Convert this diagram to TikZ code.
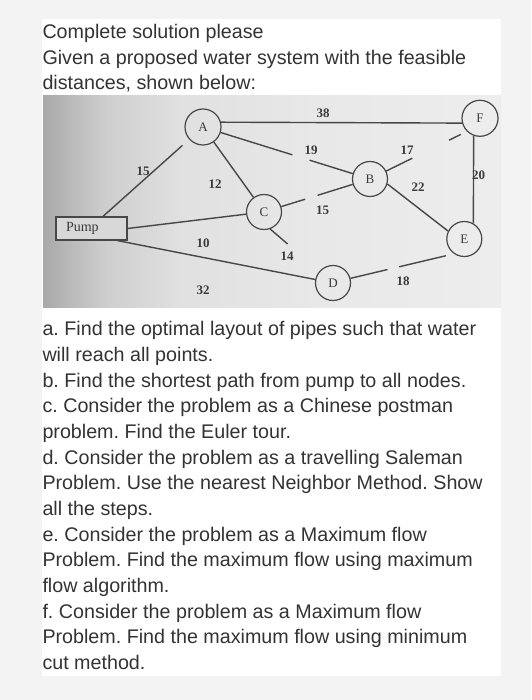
\documentclass[tikz,border=0pt]{standalone}
\usepackage{fontspec}
\setmainfont{Liberation Sans}
\newfontfamily\serifgr{Liberation Serif}
\definecolor{outerbg}{HTML}{F3F3F3}
\definecolor{linec}{HTML}{474747}
\definecolor{labc}{HTML}{3A3A3A}
\definecolor{textc}{HTML}{333333}
\definecolor{pumpc}{HTML}{D8D8D8}
\pgfdeclarehorizontalshading{photo}{100bp}{color(0bp)=(black!34); color(25bp)=(black!34); color(28bp)=(black!27); color(32bp)=(black!19); color(40bp)=(black!12); color(55bp)=(black!9); color(75bp)=(black!7); color(100bp)=(black!7)}
\frenchspacing
\begin{document}
\begin{tikzpicture}[x=1pt,y=-1pt,
  vtx/.style={circle, draw=linec, line width=1.2pt, minimum size=35pt, inner sep=0pt, font=\serifgr\fontsize{13}{13}\selectfont, text=labc},
  edge/.style={draw=linec, line width=1.4pt},
  wt/.style={font=\serifgr\bfseries\fontsize{13}{13}\selectfont, text=labc, inner sep=0pt},
  txt/.style={anchor=base west, inner sep=0pt, font=\fontsize{19.7}{25.65}\selectfont, text=textc}]
\useasboundingbox (0,0) rectangle (531,700);
\fill[outerbg] (0,0) rectangle (531,700);
\fill[white] (42.3,18.6) rectangle (500.5,675.5);
\shade[shading=photo] (43,96) rectangle (501,307.5);

% text above
\node[txt] (t1) at (42.3,38.5) {Complete solution please};
\node[txt] (t2) at (42.3,64.2) {Given a proposed water system with the feasible};
\node[txt] (t3) at (42.3,89.8) {distances, shown below:};

% graph
\node[vtx, minimum size=36pt] (A) at (203,127) {A};
\node[vtx, minimum size=36pt] (F) at (480,118.3) {F};
\node[vtx] (B) at (370,179) {B};
\node[vtx] (C) at (264,212) {C};
\node[vtx] (E) at (464.3,239) {E};
\node[vtx] (D) at (333,283) {D};
\node[draw=linec, line width=1.2pt, fill=pumpc, text width=51pt, inner xsep=10pt, inner ysep=0pt, align=left, minimum height=23pt, font=\serifgr\fontsize{14}{14}\selectfont, text=labc] (Pump) at (91.5,228.5) {Pump};

\draw[edge, shorten >=9pt] ([xshift=11.5pt]Pump.north) -- (A);
\draw[edge] (Pump.east) -- (C);
\draw[edge] ([xshift=26pt]Pump.south) -- (D);
\draw[edge] (A) -- (C);
\draw[edge] (A.15) -- (F.195);
\draw[edge, dash pattern=on 75pt off 18pt on 100pt] (A) -- (B);
\draw[edge, dash pattern=on 25pt off 13pt on 60pt] (C) -- (B);
\draw[edge, dash pattern=on 29pt off 41pt on 13pt off 40pt] (B) -- (F.225);
\draw[edge] (B.-16) -- (E.154);
\draw[edge] (F.250) -- (E.60);
\draw[edge, dash pattern=on 23pt off 200pt] (C.290) -- (D);
\draw[edge, dash pattern=on 38pt off 12pt on 48pt off 40pt] (D.15) -- (E.235);

\node[wt] (w1) at (143,171) {15};
\node[wt] (w2) at (215,184) {12};
\node[wt] (w3) at (203,243) {10};
\node[wt] (w4) at (203,290) {32};
\node[wt] (w5) at (287,256) {14};
\node[wt] (w6) at (323,113) {38};
\node[wt] (w7) at (311,150) {19};
\node[wt] (w8) at (322.5,210) {15};
\node[wt] (w9) at (407,150.5) {17};
\node[wt] (w10) at (418,187) {22};
\node[wt] (w11) at (478.5,175.5) {20};
\node[wt] (w12) at (403,281) {18};

% text below
\node[txt] (l1) at (42.3,335.9) {a. Find the optimal layout of pipes such that water};
\node[txt] (l2) at (42.3,361.55) {will reach all points.};
\node[txt] (l3) at (42.3,387.2) {b. Find the shortest path from pump to all nodes.};
\node[txt] (l4) at (42.3,412.85) {c. Consider the problem as a Chinese postman};
\node[txt] (l5) at (42.3,438.5) {problem. Find the Euler tour.};
\node[txt] (l6) at (42.3,464.15) {d. Consider the problem as a travelling Saleman};
\node[txt] (l7) at (42.3,489.8) {Problem. Use the nearest Neighbor Method. Show};
\node[txt] (l8) at (42.3,515.45) {all the steps.};
\node[txt] (l9) at (42.3,541.1) {e. Consider the problem as a Maximum flow};
\node[txt] (l10) at (42.3,566.75) {Problem. Find the maximum flow using maximum};
\node[txt] (l11) at (42.3,592.4) {flow algorithm.};
\node[txt] (l12) at (42.3,618.05) {f. Consider the problem as a Maximum flow};
\node[txt] (l13) at (42.3,643.7) {Problem. Find the maximum flow using minimum};
\node[txt] (l14) at (42.3,669.35) {cut method.};
\end{tikzpicture}
\end{document}
